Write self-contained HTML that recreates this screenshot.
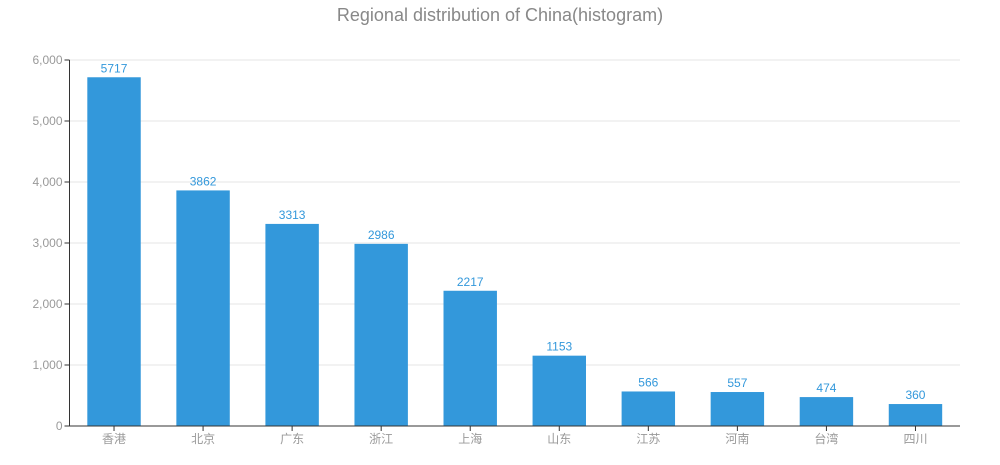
<!DOCTYPE html>
<html><head><meta charset="utf-8"><style>
body{margin:0;background:#fff;}
svg text{font-family:"Liberation Sans","Noto Sans CJK SC",sans-serif;}
</style></head><body>
<svg id="chart" width="1000" height="460">
<text x="500" y="21" text-anchor="middle" font-size="18" fill="#888">Regional distribution of China(histogram)</text>
<g id="grid"></g><g id="bars"></g><g id="axes"></g>
</svg>
<script>
const categories=["香港","北京","广东","浙江","上海","山东","江苏","河南","台湾","四川"];
const values=[5717,3862,3313,2986,2217,1153,566,557,474,360];
const yTicks=[0,1000,2000,3000,4000,5000,6000];
const tickLabels=["0","1,000","2,000","3,000","4,000","5,000","6,000"];
const NS="http://www.w3.org/2000/svg";
const L=69.5,R=960,T=60,B=426,YMAX=6000;
const y=v=>B-(v/YMAX)*(B-T);
const band=(R-L)/categories.length;
const x=i=>L+band*(i+0.5);
function mk(t,a,p){const e=document.createElementNS(NS,t);for(const k in a)e.setAttribute(k,a[k]);p.appendChild(e);return e;}
const grid=document.getElementById('grid'),bars=document.getElementById('bars'),axes=document.getElementById('axes');
yTicks.forEach((v,i)=>{
 if(v>0){const g=mk('line',{x1:L,x2:R,y1:y(v),y2:y(v),stroke:'#eee','stroke-width':1.5},grid);
 
 }
 const t=mk('text',{x:L-7,y:y(v)+4,'text-anchor':'end','font-size':12,fill:'#999'},axes);t.textContent=tickLabels[i];
 
 
 mk('line',{x1:L-5,x2:L,y1:y(v),y2:y(v),stroke:'#333'},axes);
});
const bw=band*0.6;
categories.forEach((c,i)=>{
 const r=mk('rect',{x:x(i)-bw/2,y:y(values[i]),width:bw,height:B-y(values[i]),fill:'#3398DB'},bars);
 
 
 const v=mk('text',{x:x(i),y:y(values[i])-5,'text-anchor':'middle','font-size':12,fill:'#3398DB'},bars);v.textContent=values[i];
 
 
 const t=mk('text',{x:x(i),y:B+17,'text-anchor':'middle','font-size':12,fill:'#999'},axes);t.textContent=c;
 
 
 mk('line',{x1:x(i),x2:x(i),y1:B,y2:B+5,stroke:'#333'},axes);
});
const ya=mk('line',{x1:L,x2:L,y1:T,y2:B,stroke:'#333'},axes);


const xa=mk('line',{x1:L,x2:R,y1:B,y2:B,stroke:'#333'},axes);


</script>
</body></html>
